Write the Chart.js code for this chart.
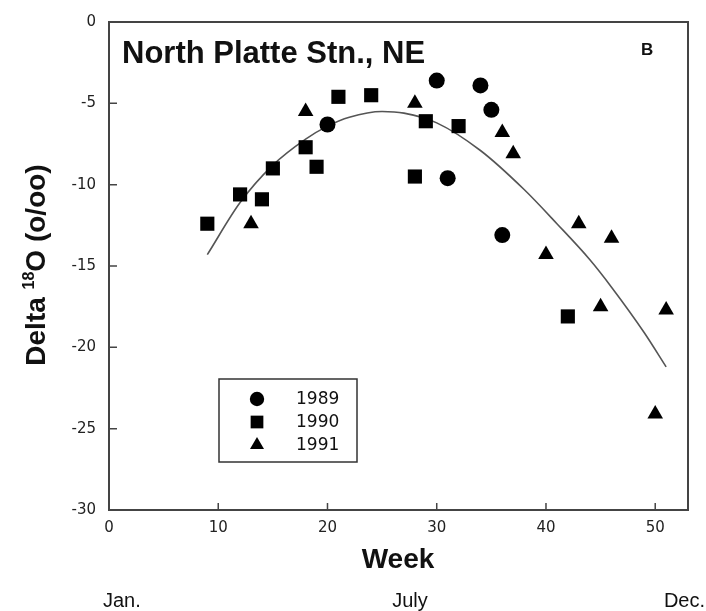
<!DOCTYPE html>
<html>
<head>
<meta charset="utf-8">
<script src="https://cdn.jsdelivr.net/npm/chart.js@4/dist/chart.umd.min.js"></script>
<style>
  html, body { margin: 0; padding: 0; background: #fff; }
  #wrap { width: 706px; height: 611px; }
</style>
</head>
<body>
<div id="wrap"><canvas id="deltaChart" width="706" height="611"></canvas></div>
<script>
// weekly samples, delta 18O per year
const weeks1989 = [20, 30, 31, 34, 35, 36];
const delta1989 = [-6.3, -3.6, -9.6, -3.9, -5.4, -13.1];

const weeks1990 = [9, 12, 14, 15, 18, 19, 21, 24, 28, 29, 32, 42];
const delta1990 = [-12.4, -10.6, -10.9, -9.0, -7.7, -8.9, -4.6, -4.5, -9.5, -6.1, -6.4, -18.1];

const weeks1991 = [13, 18, 28, 36, 37, 40, 43, 45, 46, 50, 51];
const delta1991 = [-12.4, -5.5, -5.0, -6.8, -8.1, -14.3, -12.4, -17.5, -13.3, -24.1, -17.7];

// fitted curve
const fitWeeks = [9, 12, 15, 18, 20, 22, 25, 27, 30, 34, 38, 41, 44, 46, 49, 51];
const fitDelta = [-14.3, -11.1, -8.8, -7.2, -6.4, -5.85, -5.5, -5.6, -6.2, -7.9, -10.3, -12.4, -14.6, -16.3, -19.1, -21.2];

const yearLabels = ['1989', '1990', '1991'];
const xTicks = [0, 10, 20, 30, 40, 50];
const monthLabels = ['Jan.', 'July', 'Dec.'];

const sans = '"Liberation Sans", Arial, sans-serif';
const tickFont = '"DejaVu Sans", sans-serif';

function pairs(xs, ys) {
    return xs.map((x, i) => ({ x: x, y: ys[i] }));
}

// frame, inward ticks, titles and the boxed legend
const decorPlugin = {
    id: 'decor',
    afterDatasetsDraw(chart) {
        const ctx = chart.ctx;
        const a = chart.chartArea;
        const xs = chart.scales.x;
        const ys = chart.scales.y;

        ctx.save();
        ctx.strokeStyle = '#444';
        ctx.lineWidth = 2;
        ctx.strokeRect(a.left, a.top, a.right - a.left, a.bottom - a.top);

        ctx.lineWidth = 1.5;
        ctx.beginPath();
        xs.ticks.forEach(t => {
            const px = xs.getPixelForValue(t.value);
            ctx.moveTo(px, a.bottom);
            ctx.lineTo(px, a.bottom - 7);
        });
        ys.ticks.forEach(t => {
            const py = ys.getPixelForValue(t.value);
            ctx.moveTo(a.left, py);
            ctx.lineTo(a.left + 8, py);
        });
        ctx.stroke();

        ctx.fillStyle = '#111';
        ctx.textBaseline = 'alphabetic';

        ctx.font = 'bold 31px ' + sans;
        ctx.textAlign = 'left';
        ctx.fillText('North Platte Stn., NE', 122, 63);

        ctx.font = 'bold 17px ' + sans;
        ctx.fillText('B', 641, 55);

        ctx.font = 'bold 28px ' + sans;
        ctx.textAlign = 'center';
        ctx.fillText('Week', 398, 568);

        ctx.font = '20px ' + sans;
        ctx.textAlign = 'left';
        ctx.fillText(monthLabels[0], 103, 607);
        ctx.textAlign = 'center';
        ctx.fillText(monthLabels[1], 410, 607);
        ctx.textAlign = 'right';
        ctx.fillText(monthLabels[2], 705, 607);

        // y axis title with superscript
        const big = 'bold 28px ' + sans;
        const small = 'bold 16px ' + sans;
        ctx.font = big;
        const w1 = ctx.measureText('Delta ').width;
        const w3 = ctx.measureText('O (o/oo)').width;
        ctx.font = small;
        const w2 = ctx.measureText('18').width;
        const total = w1 + w2 + w3;
        ctx.translate(45, 265);
        ctx.rotate(-Math.PI / 2);
        ctx.textAlign = 'left';
        let pos = -total / 2;
        ctx.font = big;
        ctx.fillText('Delta ', pos, 0);
        pos += w1;
        ctx.font = small;
        ctx.fillText('18', pos, -11);
        pos += w2;
        ctx.font = big;
        ctx.fillText('O (o/oo)', pos, 0);
        ctx.restore();

        // legend box
        ctx.save();
        ctx.strokeStyle = '#333';
        ctx.lineWidth = 1.5;
        ctx.strokeRect(219, 379, 138, 83);
        ctx.font = '17px ' + tickFont;
        ctx.fillStyle = '#111';
        ctx.textAlign = 'left';
        ctx.textBaseline = 'middle';
        const rows = [399, 422, 445];
        for (let i = 0; i < 3; i++) {
            const ds = chart.data.datasets[i];
            ctx.fillStyle = '#000';
            Chart.helpers.drawPoint(ctx, {
                pointStyle: ds.pointStyle,
                radius: ds.pointRadius * 0.9,
                rotation: 0,
                borderWidth: 0
            }, 257, rows[i]);
            ctx.fillStyle = '#111';
            ctx.fillText(ds.label, 296, rows[i] + 1);
        }
        ctx.restore();
    }
};

const ctx = document.getElementById('deltaChart').getContext('2d');

new Chart(ctx, {
    type: 'scatter',
    data: {
        datasets: [{
            label: yearLabels[0],
            data: pairs(weeks1989, delta1989),
            pointStyle: 'circle',
            pointRadius: 8,
            backgroundColor: '#000',
            borderColor: '#000',
            borderWidth: 0
        }, {
            label: yearLabels[1],
            data: pairs(weeks1990, delta1990),
            pointStyle: 'rect',
            pointRadius: 10,
            backgroundColor: '#000',
            borderColor: '#000',
            borderWidth: 0
        }, {
            label: yearLabels[2],
            data: pairs(weeks1991, delta1991),
            pointStyle: 'triangle',
            pointRadius: 9,
            backgroundColor: '#000',
            borderColor: '#000',
            borderWidth: 0
        }, {
            label: 'fit',
            type: 'line',
            data: pairs(fitWeeks, fitDelta),
            showLine: true,
            pointRadius: 0,
            borderColor: '#555',
            borderWidth: 1.6,
            cubicInterpolationMode: 'monotone',
            fill: false
        }]
    },
    options: {
        responsive: false,
        animation: false,
        layout: { padding: { top: 19, right: 18, left: 0, bottom: 0 } },
        plugins: {
            legend: { display: false },
            tooltip: { enabled: false }
        },
        scales: {
            x: {
                type: 'linear',
                min: 0,
                max: 53,
                afterBuildTicks: s => { s.ticks = xTicks.map(v => ({ value: v })); },
                afterFit: s => { s.height = 101; },
                grid: { display: false, drawTicks: false },
                border: { display: false },
                ticks: {
                    padding: 9,
                    color: '#222',
                    font: { family: tickFont, size: 15 }
                }
            },
            y: {
                min: -30,
                max: 0,
                afterFit: s => { s.width = 109; },
                grid: { display: false, drawTicks: false },
                border: { display: false },
                ticks: {
                    stepSize: 5,
                    padding: 13,
                    color: '#222',
                    font: { family: tickFont, size: 15 }
                }
            }
        }
    },
    plugins: [decorPlugin]
});
</script>
</body>
</html>
